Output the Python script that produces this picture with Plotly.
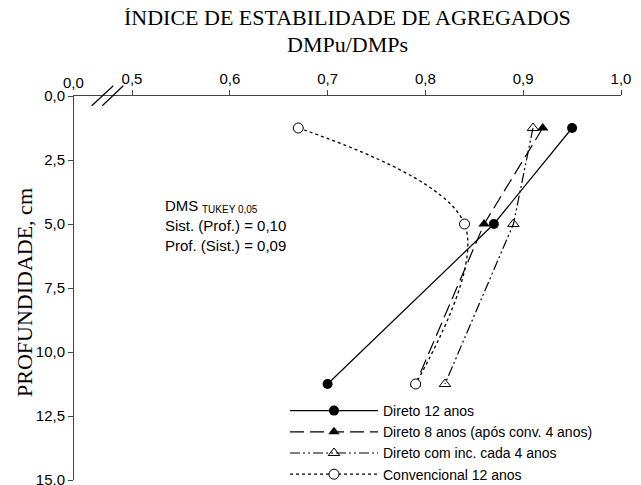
import plotly.graph_objects as go

# ---- data ----
depth = [1.25, 5.0, 11.25]
direto12 = [0.95, 0.87, 0.70]
direto8 = [0.92, 0.86, 0.79]
direto_inc = [0.91, 0.89, 0.82]
convencional = [0.67, 0.84, 0.79]

series_names = [
    "Direto 12 anos",
    "Direto 8 anos (após conv. 4 anos)",
    "Direto com inc. cada 4 anos",
    "Convencional 12 anos",
]
x_tickvals = [0.5, 0.6, 0.7, 0.8, 0.9, 1.0]
x_ticktext = ["0,5", "0,6", "0,7", "0,8", "0,9", "1,0"]
y_tickvals = [0, 2.5, 5, 7.5, 10, 12.5, 15]
y_ticktext = ["0,0", "2,5", "5,0", "7,5", "10,0", "12,5", "15,0"]

# page body has an 8px margin, so the figure is sized/placed to compensate
OFF = 8
SW, SH = 641, 485                       # screen size
W, H = SW - OFF, SH - OFF               # figure size
PL, PR, PT, PB = 74, 621, 96, 480       # plot area in screen pixels
L, R, T, B = PL - OFF, W - (PR - OFF), PT - OFF, H - (PB - OFF)
PW, PH = PR - PL, PB - PT


def px(x):
    return (x - PL) / PW


def py(y):
    return (PB - y) / PH


FONT = "Liberation Sans, Arial, sans-serif"
SERIF = "Liberation Serif, Times New Roman, serif"

fig = go.Figure()
fig.add_trace(go.Scatter(
    x=direto12, y=depth, name=series_names[0], mode="lines+markers",
    line=dict(color="black", width=1.2),
    marker=dict(symbol="circle", size=10, color="black"),
))
fig.add_trace(go.Scatter(
    x=direto8, y=depth, name=series_names[1], mode="lines+markers",
    line=dict(color="black", width=1.2, dash="14px,6px"),
    marker=dict(symbol="triangle-up", size=10, color="black"),
))
fig.add_trace(go.Scatter(
    x=direto_inc, y=depth, name=series_names[2], mode="lines+markers",
    line=dict(color="black", width=1.2, dash="10px,3px,2px,3px,2px,3px"),
    marker=dict(symbol="triangle-up-open", size=10, color="black",
                line=dict(width=1)),
))
fig.add_trace(go.Scatter(
    x=convencional, y=depth, name=series_names[3], mode="lines+markers",
    line=dict(color="black", width=1.3, dash="dot", shape="spline"),
    marker=dict(symbol="circle", size=10, color="white",
                line=dict(color="black", width=1)),
))

axis_color = "#444444"
fig.update_xaxes(
    range=[0.4407, 1.0], side="top", showline=True, linecolor=axis_color,
    linewidth=1, ticks="outside", ticklen=5, tickcolor=axis_color,
    tickvals=x_tickvals, ticktext=x_ticktext, showgrid=False, zeroline=False,
    tickfont=dict(family=FONT, size=15, color="black"),
    ticklabeloverflow="allow",
)
fig.update_yaxes(
    range=[15, 0], showline=True, linecolor=axis_color, linewidth=1,
    ticks="outside", ticklen=5, tickcolor=axis_color,
    tickvals=y_tickvals, ticktext=y_ticktext, showgrid=False, zeroline=False,
    tickfont=dict(family=FONT, size=15, color="black"),
    ticklabeloverflow="allow",
)


def ann(text, x, y, size=15, family=FONT, xanchor="left", **kw):
    return dict(text=text, x=px(x), y=py(y), xref="paper", yref="paper",
                showarrow=False, xanchor=xanchor, yanchor="middle",
                borderpad=0,
                font=dict(family=family, size=size, color="black"), **kw)


annotations = [
    ann("ÍNDICE DE ESTABILIDADE DE AGREGADOS", (PL + PR) / 2, 17.5, 22,
        SERIF, "center"),
    ann("DMPu/DMPs", (PL + PR) / 2, 44.5, 22, SERIF, "center"),
    ann("PROFUNDIDADE, cm", 24, 293, 22, SERIF, "center", textangle=-90),
    ann("0,0", 73.5, 83, 15, FONT, "center"),
    ann("DMS", 164, 205, 15),
    ann("TUKEY 0,05", 201, 209.5, 10),
    ann("Sist. (Prof.) = 0,10<br>Prof. (Sist.) = 0,09", 164, 235.5, 15,
        align="left"),
]

# axis break marks
shapes = [
    dict(type="line", xref="paper", yref="paper",
         x0=px(91.7), y0=py(105.7), x1=px(113.3), y1=py(85.7),
         line=dict(color="black", width=1.2)),
    dict(type="line", xref="paper", yref="paper",
         x0=px(102.3), y0=py(105.7), x1=px(123.3), y1=py(85.7),
         line=dict(color="black", width=1.2)),
]

fig.update_layout(
    width=W, height=H,
    margin=dict(l=L, r=R, t=T, b=B, autoexpand=False),
    paper_bgcolor="white", plot_bgcolor="white",
    annotations=annotations, shapes=shapes,
    showlegend=True,
    legend=dict(
        x=px(285), y=py(395), xanchor="left", yanchor="top",
        bgcolor="rgba(0,0,0,0)", itemwidth=88,
        font=dict(family=FONT, size=14, color="black"),
        tracegroupgap=0,
    ),
)

fig.write_html("out.html")
